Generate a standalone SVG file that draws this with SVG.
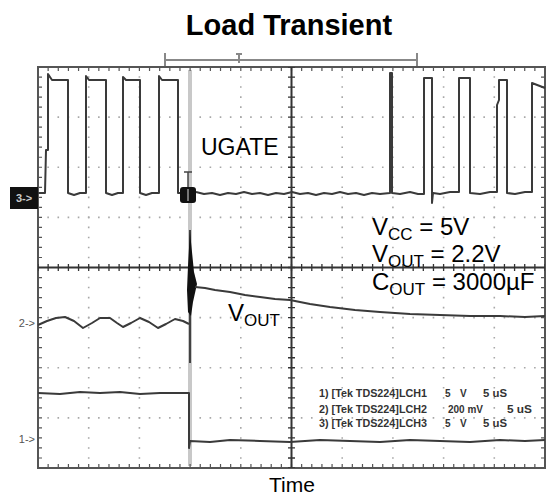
<svg xmlns="http://www.w3.org/2000/svg" width="552" height="498" viewBox="0 0 552 498">
<style>
.t{font-family:"Liberation Sans",Arial,sans-serif;fill:#000}
.leg{font-family:"Liberation Sans",Arial,sans-serif;font-weight:bold;font-size:10px;fill:#333}
.mk{font-family:"Liberation Sans",Arial,sans-serif;font-size:11px;fill:#555}
.dot{stroke:#a8a8a8;stroke-width:1.6;fill:none}
.tr{fill:none;stroke:#3a3a3a;stroke-width:2;stroke-linejoin:round}
</style>
<rect width="552" height="498" fill="#fff"/>
<text class="t" x="289" y="35" font-size="29" font-weight="bold" text-anchor="middle">Load Transient</text>
<g id="bracket" stroke="#888" stroke-width="2" fill="none">
<line x1="165" y1="60" x2="417" y2="60"/>
<line x1="165" y1="53" x2="165" y2="66"/>
<line x1="417" y1="53" x2="417" y2="66"/>
<line x1="239" y1="54" x2="239" y2="63"/>
<line x1="236" y1="54" x2="242" y2="54"/>
</g>
<g id="graticule">
<g class="dot" stroke-dasharray="1.6 8.54" stroke-dashoffset="0.8">
<line x1="38" y1="117.1" x2="545" y2="117.1"/>
<line x1="38" y1="167.3" x2="545" y2="167.3"/>
<line x1="38" y1="217.4" x2="545" y2="217.4"/>
<line x1="38" y1="317.6" x2="545" y2="317.6"/>
<line x1="38" y1="367.8" x2="545" y2="367.8"/>
<line x1="38" y1="417.9" x2="545" y2="417.9"/>
</g>
<g class="dot" stroke-dasharray="1.6 8.425" stroke-dashoffset="0.8">
<line x1="88.7" y1="67" x2="88.7" y2="468"/>
<line x1="139.4" y1="67" x2="139.4" y2="468"/>
<line x1="190.1" y1="67" x2="190.1" y2="468"/>
<line x1="240.8" y1="67" x2="240.8" y2="468"/>
<line x1="342.2" y1="67" x2="342.2" y2="468"/>
<line x1="392.9" y1="67" x2="392.9" y2="468"/>
<line x1="443.6" y1="67" x2="443.6" y2="468"/>
<line x1="494.3" y1="67" x2="494.3" y2="468"/>
</g>
<line x1="190" y1="70" x2="190" y2="466" stroke="#c8c8c8" stroke-width="4"/>
<rect x="38" y="67" width="507" height="401" fill="none" stroke="#555" stroke-width="2"/>
<g stroke="#555" fill="none" stroke-width="4" stroke-dasharray="1.2 8.94" stroke-dashoffset="0.6">
<line x1="38" y1="69" x2="545" y2="69"/>
<line x1="38" y1="466" x2="545" y2="466"/>
</g>
<g stroke="#555" fill="none" stroke-width="4" stroke-dasharray="1.2 8.825" stroke-dashoffset="0.6">
<line x1="40" y1="67" x2="40" y2="468"/>
<line x1="543" y1="67" x2="543" y2="468"/>
</g>
<line x1="38" y1="267.5" x2="545" y2="267.5" stroke="#333" stroke-width="2"/>
<line x1="291.5" y1="67" x2="291.5" y2="468" stroke="#333" stroke-width="2"/>
<line x1="38" y1="267.5" x2="545" y2="267.5" stroke="#333" stroke-width="7" stroke-dasharray="1.3 8.84" stroke-dashoffset="0.65"/>
<line x1="291.5" y1="67" x2="291.5" y2="468" stroke="#333" stroke-width="7" stroke-dasharray="1.3 8.725" stroke-dashoffset="0.65"/>
</g>
<g id="ugate">
<path class="tr" stroke="#555" d="M38,193 H45 L46,150 H48 V74 L52,80 H68 V193 L74,195 L80,193 H86 V76 L89,80 H106 V193 L112,195 L118,193 H123 V77 L126,80 H140 V193 L146,195 L152,193 H159 V76 L162,80 H178 V193 H186 M196,192 L204,194 L212,193 L220,195 L228,193 L236,194 L244,192 L252,194 L260,193 L268,195 L276,193 L284,194 L292,192 L300,194 L308,193 L316,195 L324,193 L332,194 L340,192 L348,194 L356,193 L364,195 L372,193 L380,194 L390,193 V73 L392,73 V193 L400,194 L410,192 L418,194 H424 V78 H432 V203 L433,193 L440,194 L450,192 H459 V78 H470 V193 L480,194 L490,192 H497 V105 L499,100 V80 H507 V193 L515,194 L525,192 H532 V83 L545,88"/>
<g id="trigger">
<line x1="188" y1="172" x2="188" y2="188" stroke="#444" stroke-width="1.5"/>
<line x1="184" y1="172" x2="192" y2="172" stroke="#444" stroke-width="1.5"/>
<rect x="180" y="187" width="16" height="16" rx="3" fill="#111"/>
<line x1="188" y1="189" x2="188" y2="201" stroke="#999" stroke-width="1.5"/>
</g>
</g>
<g id="vout">
<path class="tr" stroke-width="2.6" d="M38,325 L47,321 L56,318 L65,317 L74,321 L83,328 L92,323 L100,318 L110,318 L117,323 L123,327 L131,323 L140,318 L149,322 L158,328 L166,324 L175,319 L183,321 L189,324"/>
<line x1="190" y1="230" x2="190" y2="363" stroke="#333" stroke-width="1.8"/>
<polygon points="190,232 192,252 194,272 197,284 195,293 193,302 191,316 188,312 187,290 188,266 189,248" fill="#111"/>
<path class="tr" stroke-width="2.6" d="M195,287 L205,288 L215,290 L230,292 L245,295 L260,297 L275,299 L290,300 L310,304 L330,307 L355,310 L380,312 L410,314 L440,315 L470,316 L500,316 L525,317 L545,316"/>
</g>
<g id="ch1">
<path class="tr" stroke-width="2.4" d="M38,393 L60,394 L80,392 L100,393 L120,392 L140,394 L160,393 L189,393 V448 L190,441 L210,442 L230,440 L260,441 L290,442 L320,440 L350,441 L380,442 L410,440 L440,441 L470,442 L500,440 L525,441 L545,440"/>
</g>
<g id="markers">
<rect x="10" y="187" width="28" height="22" fill="#111"/>
<text class="mk" x="24" y="202" text-anchor="middle" font-weight="bold" style="fill:#ccc">3-&gt;</text>
<text class="mk" x="35" y="327" text-anchor="end">2-&gt;</text>
<text class="mk" x="35" y="443" text-anchor="end">1-&gt;</text>
</g>
<g id="labels">
<text class="t" x="201" y="155" font-size="23">UGATE</text>
<text class="t" x="228" y="321" font-size="24">V<tspan font-size="17" dy="5">OUT</tspan></text>
<text class="t" x="372" y="235" font-size="24">V<tspan font-size="17" dy="5">CC</tspan><tspan dy="-5"> = 5V</tspan></text>
<text class="t" x="372" y="262" font-size="24">V<tspan font-size="17" dy="5">OUT</tspan><tspan dy="-5"> = 2.2V</tspan></text>
<text class="t" x="372" y="290" font-size="24">C<tspan font-size="17" dy="5">OUT</tspan><tspan dy="-5"> = 3000µF</tspan></text>
<text class="t" x="292" y="492" font-size="21" text-anchor="middle">Time</text>
</g>
<g id="legend">
<text class="leg" y="397"><tspan x="319" textLength="108" lengthAdjust="spacingAndGlyphs">1) [Tek TDS224]LCH1</tspan><tspan x="445">5</tspan><tspan x="460">V</tspan><tspan x="483" textLength="24" lengthAdjust="spacingAndGlyphs">5 uS</tspan></text>
<text class="leg" y="413"><tspan x="319" textLength="108" lengthAdjust="spacingAndGlyphs">2) [Tek TDS224]LCH2</tspan><tspan x="448" textLength="35" lengthAdjust="spacingAndGlyphs">200 mV</tspan><tspan x="507" textLength="25" lengthAdjust="spacingAndGlyphs">5 uS</tspan></text>
<text class="leg" y="427"><tspan x="319" textLength="108" lengthAdjust="spacingAndGlyphs">3) [Tek TDS224]LCH3</tspan><tspan x="445">5</tspan><tspan x="460">V</tspan><tspan x="483" textLength="24" lengthAdjust="spacingAndGlyphs">5 uS</tspan></text>
</g>
</svg>
